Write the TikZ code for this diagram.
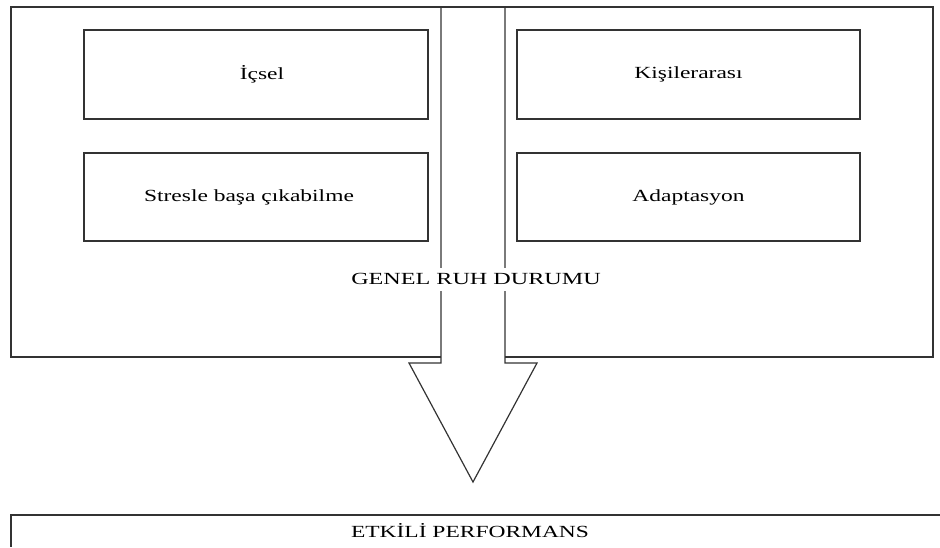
\documentclass[tikz,border=0pt]{standalone}
\usepackage{fontspec}
\setmainfont{Liberation Serif}
\usepackage{graphicx}
\newcommand\widetxt[1]{\scalebox{1.38}[1]{#1}}
\newcommand\lowtxt[2]{\raisebox{-#1pt}{\widetxt{#2}}}
\begin{document}
\begin{tikzpicture}[x=1pt,y=-1pt,
  ln/.style={draw=black!80, line width=1.2pt},
  inbox/.style={ln, minimum width=344pt, minimum height=89pt, inner sep=0pt,
    font=\fontsize{17}{20}\selectfont},
  lbl/.style={font=\fontsize{17}{20}\selectfont, inner sep=1pt}
]
\useasboundingbox (0,0) rectangle (940,547);
% outer frame
\coordinate (tl) at (11,7);
\coordinate (tr) at (933,7);
\coordinate (br) at (933,357);
\coordinate (bl) at (11,357);
\coordinate (sl) at (441,357);
\coordinate (sr) at (505,357);
\draw[ln] (sl) -- (bl) -- (tl) -- (tr) -- (br) -- (sr);
% inner boxes
\node[inbox] (icsel) at (256,74.5) {\hspace*{12pt}\lowtxt{2.5}{İçsel}};
\node[inbox, minimum height=88pt] (stres) at (256,197) {\lowtxt{6}{Stresle başa çıkabilme}\hspace*{14pt}};
\node[inbox, minimum width=343pt] (kisi) at (688.5,74.5) {\lowtxt{2.5}{Kişilerarası}};
\node[inbox, minimum width=343pt, minimum height=88pt] (adap) at (688.5,197) {\lowtxt{6}{Adaptasyon}};
% arrow
\coordinate (a1) at (441,7);
\coordinate (a2) at (441,363);
\coordinate (a3) at (409,363);
\coordinate (tip) at (473,482);
\coordinate (a5) at (537,363);
\coordinate (a6) at (505,363);
\coordinate (a7) at (505,7);
\draw[ln, line join=miter] (a1) -- (a2) -- (a3) -- (tip) -- (a5) -- (a6) -- (a7);
% general label
\node[lbl, fill=white, minimum height=23pt] (genel) at (476,279) {\scalebox{1.42}[1]{GENEL RUH DURUMU}};
% bottom box
\coordinate (b1) at (940,515);
\coordinate (b2) at (11,515);
\coordinate (b3) at (11,547);
\draw[ln] (b1) -- (b2) -- (b3);
\node[lbl] (perf) at (470,531) {\widetxt{ETKİLİ PERFORMANS}};
\end{tikzpicture}
\end{document}
